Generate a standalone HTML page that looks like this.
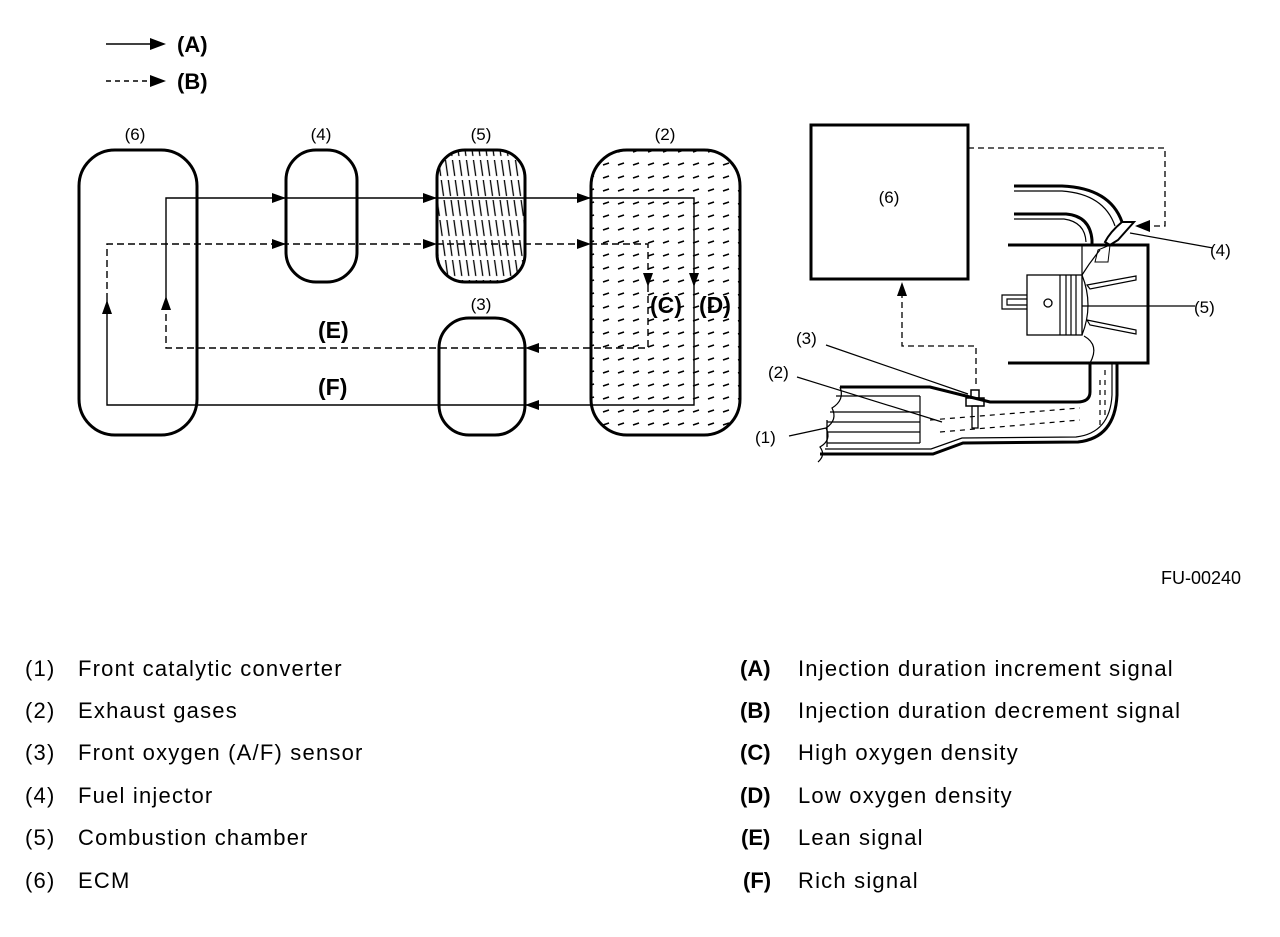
<!DOCTYPE html>
<html><head><meta charset="utf-8"><style>
html,body{margin:0;padding:0;background:#fff;}
body{width:1280px;height:932px;overflow:hidden;font-family:"Liberation Sans",Arial,sans-serif;}
svg text{font-family:"Liberation Sans",Arial,sans-serif;}
</style></head><body>
<svg width="1280" height="932" viewBox="0 0 1280 932" xmlns="http://www.w3.org/2000/svg">
<defs>
<pattern id="p2" width="15" height="13" patternUnits="userSpaceOnUse">
<line x1="3" y1="9" x2="9" y2="7" stroke="#000" stroke-width="1.5"/>
</pattern>
<pattern id="p5" width="7" height="20" patternUnits="userSpaceOnUse" patternTransform="skewX(8)">
<line x1="3" y1="0" x2="3" y2="16" stroke="#000" stroke-width="1.3"/>
</pattern>
</defs>

<!-- legend top -->
<line x1="106" y1="44" x2="150" y2="44" stroke="#000" stroke-width="1.5"/>
<path d="M150,38 L166,44 L150,50 z"/>
<text x="177" y="52" font-size="22" font-weight="bold">(A)</text>
<line x1="106" y1="81" x2="150" y2="81" stroke="#000" stroke-width="1.5" stroke-dasharray="5,4"/>
<path d="M150,75 L166,81 L150,87 z"/>
<text x="177" y="89" font-size="22" font-weight="bold">(B)</text>

<!-- left boxes -->
<g stroke="#000" stroke-width="3" fill="none">
<rect x="79" y="150" width="118" height="285" rx="36"/>
<rect x="286" y="150" width="71" height="132" rx="30"/>
<rect x="437" y="150" width="88" height="132" rx="28" fill="url(#p5)"/>
<rect x="591" y="150" width="149" height="285" rx="36" fill="url(#p2)"/>
<rect x="439" y="318" width="86" height="117" rx="30"/>
</g>
<g font-size="17" text-anchor="middle">
<text x="135" y="140">(6)</text><text x="321" y="140">(4)</text>
<text x="481" y="140">(5)</text><text x="665" y="140">(2)</text>
<text x="481" y="310">(3)</text>
</g>

<g stroke="#000" stroke-width="1.4" fill="none">
<polyline points="166,296 166,198 694,198 694,405 107,405 107,300"/>
</g>
<g stroke="#000" stroke-width="1.4" fill="none" stroke-dasharray="7,4">
<polyline points="107,300 107,244 648,244 648,348 166,348 166,296"/>
</g>
<g fill="#000">
<path d="M272,193 L286,198 L272,203 z"/>
<path d="M423,193 L437,198 L423,203 z"/>
<path d="M577,193 L591,198 L577,203 z"/>
<path d="M272,239 L286,244 L272,249 z"/>
<path d="M423,239 L437,244 L423,249 z"/>
<path d="M577,239 L591,244 L577,249 z"/>
<path d="M643,273 L648,287 L653,273 z"/>
<path d="M689,273 L694,287 L699,273 z"/>
<path d="M539,343 L525,348 L539,353 z"/>
<path d="M539,400 L525,405 L539,410 z"/>
<path d="M102,314 L107,300 L112,314 z"/>
<path d="M161,310 L166,296 L171,310 z"/>
</g>
<g font-size="23" font-weight="bold">
<text x="318" y="338">(E)</text>
<text x="318" y="395">(F)</text>
<text x="650" y="313">(C)</text>
<text x="699" y="313">(D)</text>
</g>

<!-- right diagram -->
<rect x="811" y="125" width="157" height="154" fill="none" stroke="#000" stroke-width="3"/>
<text x="889" y="203" font-size="17" text-anchor="middle">(6)</text>
<g stroke="#000" stroke-width="1.3" fill="none" stroke-dasharray="6,4">
<polyline points="968,148 1165,148 1165,226 1150,226"/>
<polyline points="902,292 902,346 976,346 976,388"/>
</g>
<path d="M1150,220 L1135,226 L1150,232 z"/>
<path d="M897,296 L902,282 L907,296 z"/>

<g stroke="#000" fill="none">
<path d="M1014,186 L1062,186 Q1110,188 1122,222" stroke-width="3"/>
<path d="M1014,191 L1062,191 Q1104,194 1115,226" stroke-width="1.2"/>
<path d="M1014,214 L1066,214 Q1090,216 1092,240 L1092,245" stroke-width="3"/>
<path d="M1014,219 L1064,219 Q1085,222 1086,242" stroke-width="1.2"/>
<path d="M1122,222 L1134,222 L1118,240 L1110,245 L1105,242 Q1110,232 1122,222 z" stroke-width="2"/>
<path d="M1098,250 L1110,245 L1108,262 L1095,262 z" stroke-width="1"/>
<path d="M1008,245 L1148,245 L1148,363 L1008,363" stroke-width="3"/>
<line x1="1082" y1="245" x2="1082" y2="275" stroke-width="1.2"/>
<path d="M1082,275 Q1090,262 1100,250" stroke-width="1.2"/>
<rect x="1027" y="275" width="55" height="60" stroke-width="1.3"/>
<line x1="1060" y1="275" x2="1060" y2="335" stroke-width="1.2"/>
<line x1="1066" y1="275" x2="1066" y2="335" stroke-width="1.2"/>
<line x1="1071" y1="275" x2="1071" y2="335" stroke-width="1.2"/>
<line x1="1076" y1="275" x2="1076" y2="335" stroke-width="1.2"/>
<circle cx="1048" cy="303" r="4" stroke-width="1.3"/>
<path d="M1027,295 L1002,295 L1002,309 L1027,309 M1027,299 L1007,299 L1007,305 L1027,305" stroke-width="1.2"/>
<path d="M1082,275 Q1094,305 1082,335" stroke-width="1.2"/>
<path d="M1087,285 L1136,276 L1136,280 L1090,289 z" stroke-width="1.2"/>
<path d="M1087,320 L1136,330 L1136,334 L1090,325 z" stroke-width="1.2"/>
<path d="M1117,363 L1117,395 Q1115,438 1078,442 L963,443 L933,454 L820,454" stroke-width="3"/>
<path d="M1112,363 L1112,395 Q1110,433 1076,437 L962,438 L931,449 L825,449" stroke-width="1.2"/>
<path d="M1090,363 L1090,392 Q1090,402 1077,402 L990,402 L930,387 L840,387" stroke-width="3"/>
<path d="M1084,336 Q1100,345 1090,363" stroke-width="1.2"/>
<path d="M840,387 Q845,400 832,408 Q838,420 826,428 Q832,440 820,447 Q826,455 818,462" stroke-width="1.2"/>
<line x1="836" y1="396" x2="920" y2="396" stroke-width="1.3"/>
<line x1="830" y1="412" x2="920" y2="412" stroke-width="1.3"/>
<line x1="827" y1="422" x2="920" y2="422" stroke-width="1.3"/>
<line x1="827" y1="432" x2="920" y2="432" stroke-width="1.3"/>
<line x1="827" y1="443" x2="920" y2="443" stroke-width="1.3"/>
<line x1="827" y1="420" x2="827" y2="447" stroke-width="1.3"/>
<line x1="920" y1="396" x2="920" y2="443" stroke-width="1.2"/>
<rect x="971" y="390" width="8" height="8" stroke-width="1.5"/>
<rect x="966" y="398" width="18" height="8" stroke-width="1.5"/>
<rect x="972" y="406" width="6" height="22" stroke-width="1.3"/>
<line x1="826" y1="345" x2="968" y2="394" stroke-width="1.2"/>
<line x1="797" y1="377" x2="942" y2="422" stroke-width="1.2"/>
<line x1="789" y1="436" x2="826" y2="428" stroke-width="1.2"/>
<line x1="1213" y1="248" x2="1130" y2="233" stroke-width="1.2"/>
<line x1="1195" y1="306" x2="1082" y2="306" stroke-width="1.2"/>
</g>
<g stroke="#000" stroke-width="1.2" stroke-dasharray="5,5" fill="none">
<path d="M930,420 L1080,408 M940,432 L1080,420 M1100,380 L1100,430 M1105,370 L1105,420"/>
</g>
<g font-size="17">
<text x="796" y="344">(3)</text>
<text x="768" y="378">(2)</text>
<text x="755" y="443">(1)</text>
<text x="1210" y="256">(4)</text>
<text x="1194" y="313">(5)</text>
</g>
<text x="1241" y="584" font-size="18" text-anchor="end">FU-00240</text>

<g font-size="22" letter-spacing="1.2">
<text x="25" y="676">(1)</text><text x="78" y="676">Front catalytic converter</text>
<text x="25" y="718">(2)</text><text x="78" y="718">Exhaust gases</text>
<text x="25" y="760">(3)</text><text x="78" y="760">Front oxygen (A/F) sensor</text>
<text x="25" y="803">(4)</text><text x="78" y="803">Fuel injector</text>
<text x="25" y="845">(5)</text><text x="78" y="845">Combustion chamber</text>
<text x="25" y="888">(6)</text><text x="78" y="888">ECM</text>
<text x="798" y="676">Injection duration increment signal</text>
<text x="798" y="718">Injection duration decrement signal</text>
<text x="798" y="760">High oxygen density</text>
<text x="798" y="803">Low oxygen density</text>
<text x="798" y="845">Lean signal</text>
<text x="798" y="888">Rich signal</text>
</g>
<g font-size="22" font-weight="bold">
<text x="740" y="676">(A)</text><text x="740" y="718">(B)</text>
<text x="740" y="760">(C)</text><text x="740" y="803">(D)</text>
<text x="741" y="845">(E)</text><text x="743" y="888">(F)</text>
</g>
</svg>
</body></html>
